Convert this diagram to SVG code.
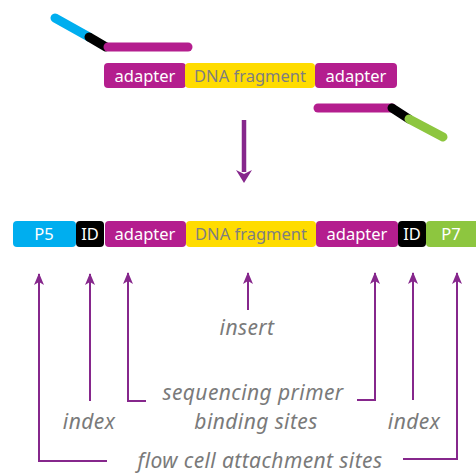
<svg xmlns="http://www.w3.org/2000/svg" width="476" height="474" viewBox="0 0 476 474">
<defs>
<style>
.box-lbl{font-family:"Noto Sans","DejaVu Sans",sans-serif;font-size:16.5px;text-anchor:middle}
.w{fill:#ffffff}
.g{fill:#7f7f7f}
.note{font-family:"Noto Sans","Open Sans",sans-serif;font-style:italic;font-size:21px;letter-spacing:0.4px;fill:#7a7a7a;text-anchor:middle}
.conn{fill:none;stroke:#86278c;stroke-width:2}
.strand{fill:none;stroke-width:9;stroke-linecap:round}
</style>
<marker id="ah" viewBox="0 0 12 12" refX="11" refY="6" markerWidth="12" markerHeight="12" markerUnits="userSpaceOnUse" orient="auto">
<path d="M0,1 L12,6 L0,11 L3,6 Z" fill="#86278c"/>
</marker>
</defs>
<g id="top-left-adapter">
<line class="strand" x1="55" y1="18" x2="89" y2="37" stroke="#00aeef"/>
<line class="strand" x1="89" y1="37" x2="106" y2="47" stroke="#000"/>
<line class="strand" x1="108" y1="47" x2="188" y2="47" stroke="#b41e8e"/>
</g>
<g id="top-fragment">
<rect x="104" y="63" width="82" height="25" rx="4" fill="#b41e8e"/>
<rect x="185" y="63" width="130" height="25" rx="4" fill="#ffdc00"/>
<rect x="315" y="63" width="82" height="25" rx="4" fill="#b41e8e"/>
<text class="box-lbl w" x="145" y="81.5">adapter</text>
<text class="box-lbl g" x="250" y="81.5">DNA fragment</text>
<text class="box-lbl w" x="356" y="81.5">adapter</text>
</g>
<g id="top-right-adapter">
<line class="strand" x1="318" y1="108" x2="392" y2="108" stroke="#b41e8e"/>
<line class="strand" x1="392" y1="108" x2="409" y2="119" stroke="#000"/>
<line class="strand" x1="409" y1="119" x2="443" y2="137" stroke="#8dc63f"/>
</g>
<g id="main-arrow">
<line x1="244" y1="120" x2="244" y2="172" stroke="#86278c" stroke-width="4.5"/>
<path d="M236,170 L244,183 L252,170 L244,174 Z" fill="#86278c"/>
</g>
<g id="library">
<rect x="13" y="221" width="63" height="26" rx="4" fill="#00aeef"/>
<rect x="76" y="221" width="28" height="26" rx="4" fill="#000"/>
<rect x="105" y="221" width="81" height="26" rx="4" fill="#b41e8e"/>
<rect x="186" y="221" width="130" height="26" rx="4" fill="#ffdc00"/>
<rect x="316" y="221" width="82" height="26" rx="4" fill="#b41e8e"/>
<rect x="398" y="221" width="28" height="26" rx="4" fill="#000"/>
<rect x="426" y="221" width="56" height="26" rx="4" fill="#8dc63f"/>
<text class="box-lbl w" x="44" y="240">P5</text>
<text class="box-lbl w" x="90" y="240">ID</text>
<text class="box-lbl w" x="145" y="240">adapter</text>
<text class="box-lbl g" x="251" y="240">DNA fragment</text>
<text class="box-lbl w" x="357" y="240">adapter</text>
<text class="box-lbl w" x="412" y="240">ID</text>
<text class="box-lbl w" x="451" y="240">P7</text>
</g>
<g id="connectors">
<polyline class="conn" points="107,461 39,461 39,274" marker-end="url(#ah)"/>
<polyline class="conn" points="90,401 90,274" marker-end="url(#ah)"/>
<polyline class="conn" points="146,401 128,401 128,273" marker-end="url(#ah)"/>
<polyline class="conn" points="248,310 248,273" marker-end="url(#ah)"/>
<polyline class="conn" points="357,400 375,400 375,273" marker-end="url(#ah)"/>
<polyline class="conn" points="413,400 413,273" marker-end="url(#ah)"/>
<polyline class="conn" points="403,459 457,459 457,273" marker-end="url(#ah)"/>
</g>
<g id="labels">
<text class="note" x="247" y="335">insert</text>
<text class="note" x="253" y="400">sequencing primer</text>
<text class="note" x="256" y="429">binding sites</text>
<text class="note" x="89" y="429">index</text>
<text class="note" x="414" y="429">index</text>
<text class="note" x="260" y="468">flow cell attachment sites</text>
</g>
</svg>
